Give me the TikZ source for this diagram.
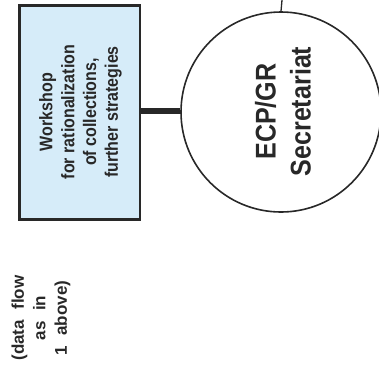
\documentclass[tikz,border=0pt]{standalone}
\usepackage{fontspec}
\setmainfont{Liberation Sans}
\newfontfamily\boxfont[FakeStretch=0.88]{Liberation Sans}
\newfontfamily\secfont[FakeStretch=0.88]{Liberation Sans}
\newfontfamily\notefont[WordSpace=2.2]{Liberation Sans}
\definecolor{boxblue}{RGB}{214,236,249}
\definecolor{inkgray}{RGB}{40,40,40}
\begin{document}
\begin{tikzpicture}[x=1pt,y=-1pt,
  lbl/.style={rotate=90,align=center,text=inkgray,inner sep=0pt},
]
\useasboundingbox (0,0) rectangle (379,368);
\node[draw=inkgray,line width=2.5pt,fill=boxblue,minimum width=120.5pt,minimum height=214pt,inner sep=0pt] (ws) at (79.75,112.5) {};
\node[lbl,font=\boxfont\bfseries\fontsize{18.2}{21.8}\selectfont] (wst) at (80.5,112) {Workshop\\for rationalization\\of collections,\\further strategies};
\node[draw=inkgray,line width=1.6pt,circle,minimum size=200pt,inner sep=0pt] (sec) at (281,112) {};
\node[lbl,font=\secfont\bfseries\fontsize{28.5}{35}\selectfont] (sect) at (283,111.5) {ECP/GR\\Secretariat};
\coordinate (top) at (282,0);
\draw[inkgray,line width=1.3pt] (top) -- (sec.north);
\draw[inkgray,line width=6pt] (ws.east |- 0,111) -- (sec.west |- 0,111);
\node[lbl,font=\notefont\bfseries\fontsize{17}{21.5}\selectfont] (df) at (41,318) {(data flow\\as in\\1 above)};
\end{tikzpicture}
\end{document}
